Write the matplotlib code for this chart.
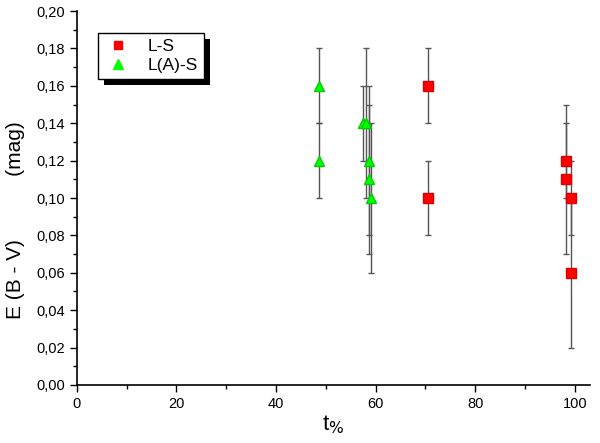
import matplotlib
matplotlib.use("Agg")
import matplotlib.pyplot as plt
from matplotlib.ticker import MultipleLocator, FuncFormatter
from matplotlib.patches import Rectangle
from matplotlib.lines import Line2D

plt.rcParams['font.family'] = ['Liberation Sans', 'DejaVu Sans']

# L-S
ls_t = [70.5, 70.5, 98.3, 98.3, 99.3, 99.3]
ls_e = [0.16, 0.10, 0.12, 0.11, 0.10, 0.06]
ls_err = [0.02, 0.02, 0.02, 0.04, 0.02, 0.04]

# L(A)-S
las_t = [48.7, 48.7, 57.5, 58.0, 58.6, 58.6, 59.0]
las_e = [0.16, 0.12, 0.14, 0.14, 0.12, 0.11, 0.10]
las_err = [0.02, 0.02, 0.02, 0.04, 0.04, 0.04, 0.04]

red, green = '#ff0000', '#00ff00'

fig = plt.figure(figsize=(6, 4.43), dpi=100)
ax = fig.add_axes([0.128, 0.131, 0.855, 0.844])

eb = dict(ecolor='#555555', elinewidth=1, capsize=2.5, capthick=1, linestyle='none')
ax.errorbar(ls_t, ls_e, yerr=ls_err, fmt='s', color=red, markersize=6.5,
            markeredgecolor='#dd0000', **eb)
ax.errorbar(las_t, las_e, yerr=las_err, fmt='^', color=green, markersize=7.5,
            markeredgecolor='#00cc00', **eb)

ax.set_xlim(0, 103)
ax.set_ylim(0, 0.20)
ax.xaxis.set_major_locator(MultipleLocator(20))
ax.xaxis.set_minor_locator(MultipleLocator(10))
ax.yaxis.set_major_locator(MultipleLocator(0.02))
ax.yaxis.set_minor_locator(MultipleLocator(0.01))
ax.yaxis.set_major_formatter(FuncFormatter(lambda v, p: f"{v:.2f}".replace('.', ',')))
ax.tick_params(which='major', direction='out', length=5, width=1, labelsize=10.5)
ax.tick_params(which='minor', direction='out', length=3, width=1)
for s in ['top', 'right']:
    ax.spines[s].set_visible(False)
for s in ['left', 'bottom']:
    ax.spines[s].set_linewidth(1.2)

ax.set_xlabel('t$_{\\%}$', fontsize=16, labelpad=2)
ax.set_ylabel('E (B - V)           (mag)', fontsize=15, labelpad=10)
ax.yaxis.set_label_coords(-0.1, 0.44)

handles = [Line2D([], [], marker='s', color=red, linestyle='none', markersize=5.5),
           Line2D([], [], marker='^', color=green, linestyle='none', markersize=6.5)]
leg = ax.legend(handles, ['L-S', 'L(A)-S'], loc='upper left',
                bbox_to_anchor=(0.041, 0.941), borderaxespad=0,
                fancybox=False, edgecolor='black', framealpha=1, fontsize=12.5,
                handlelength=1.6, handletextpad=0.9, borderpad=0.35, labelspacing=0.2)
leg.get_frame().set_linewidth(1)
leg.set_zorder(5)

fig.canvas.draw()
bb = leg.get_window_extent()
shadow = Rectangle((bb.x0 + 6, bb.y0 - 6), bb.width, bb.height,
                   transform=None, facecolor='black', edgecolor='none',
                   zorder=4, clip_on=False)
ax.add_artist(shadow)

fig.savefig('out.png', dpi=100)
